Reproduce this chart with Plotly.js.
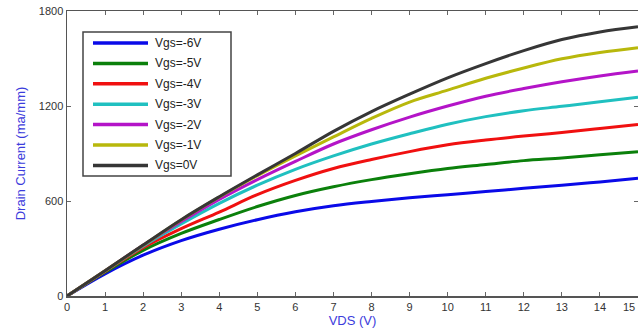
<!DOCTYPE html>
<html>
<head>
<meta charset="utf-8">
<script src="https://cdn.plot.ly/plotly-3.0.1.min.js"></script>
<style>html,body{margin:0;padding:0;background:#fff;}#chart{width:638px;height:328px;}</style>
</head>
<body>
<div id="chart"></div>
<script>
const vds = [0,1,2,3,4,5,6,7,8,9,10,11,12,13,14,15];
const seriesNames = ["Vgs=-6V","Vgs=-5V","Vgs=-4V","Vgs=-3V","Vgs=-2V","Vgs=-1V","Vgs=0V"];
const vgsM6 = [0,140,258,350,422,482,532,570,597,620,640,660,680,700,720,743];
const vgsM5 = [0,150,288,395,483,565,635,690,735,772,805,830,855,872,892,911];
const vgsM4 = [0,155,305,425,530,640,730,805,862,912,955,985,1010,1032,1058,1084];
const vgsM3 = [0,158,315,455,585,700,800,885,960,1025,1085,1133,1170,1198,1227,1255];
const vgsM2 = [0,160,320,470,610,735,850,960,1050,1130,1200,1262,1310,1353,1390,1421];
const vgsM1 = [0,160,320,480,625,760,885,1005,1122,1225,1300,1375,1440,1498,1538,1568];
const vgs0  = [0,160,322,482,627,765,900,1040,1165,1275,1378,1468,1550,1620,1668,1701];
const xTicks = [0,1,2,3,4,5,6,7,8,9,10,11,12,13,14,15];
const yTicks = [0,600,1200,1800];

const allSeries = [vgsM6, vgsM5, vgsM4, vgsM3, vgsM2, vgsM1, vgs0];
const colors = ["#0a0ae8","#0b800b","#f01010","#20c0c0","#b414c8","#b8b80c","#363636"];
const FONT = "Liberation Sans, Arial, sans-serif";

const traces = allSeries.map((ys, i) => ({
  x: vds, y: ys, type: "scatter", mode: "lines", name: seriesNames[i],
  line: {color: colors[i], width: 3, shape: "spline", smoothing: 1},
  showlegend: false, hoverinfo: "skip"
}));

// Manual legend box (paper coordinates)
const L = 67, T = 11, W = 571, H = 285;
const px = v => (v - L) / W;
const py = v => (T + H - v) / H;
const shapes = [{
  type: "rect", xref: "paper", yref: "paper",
  x0: px(83), x1: px(231), y0: py(176), y1: py(32),
  line: {color: "#444", width: 1.5}, fillcolor: "#fff", layer: "above"
}];
const annotations = [];
seriesNames.forEach((nm, i) => {
  const yy = 43 + i * 20.4;
  shapes.push({type: "line", xref: "paper", yref: "paper",
    x0: px(93), x1: px(148), y0: py(yy), y1: py(yy),
    line: {color: colors[i], width: 3.5}, layer: "above"});
  annotations.push({xref: "paper", yref: "paper", x: px(153), y: py(yy),
    xanchor: "left", yanchor: "middle", text: nm, showarrow: false,
    font: {family: FONT, size: 12, color: "#222"}});
});
// last x tick label at the right edge of the figure
annotations.push({xref: "x", yref: "paper", x: xTicks[xTicks.length - 1], y: 0,
  xanchor: "right", yanchor: "top", yshift: -3, xshift: -1, text: String(xTicks[xTicks.length - 1]),
  showarrow: false, font: {family: FONT, size: 11, color: "#333"}});

const axisCommon = {
  showgrid: false, zeroline: false, showline: true, linecolor: "#555", linewidth: 1.5,
  mirror: "ticks", ticks: "inside", ticklen: 4, tickcolor: "#666", tickwidth: 1,
  tickfont: {family: FONT, size: 11, color: "#333"}
};

const layout = {
  width: 638, height: 328,
  margin: {l: 67, r: 0, t: 11, b: 32},
  paper_bgcolor: "#fff", plot_bgcolor: "#fff",
  xaxis: Object.assign({}, axisCommon, {
    range: [0, 15], tickmode: "array", tickvals: xTicks, ticktext: xTicks.map(String),
    title: {text: "VDS (V)", standoff: 2, font: {family: FONT, size: 13, color: "#3c3cdc"}}
  }),
  yaxis: Object.assign({}, axisCommon, {
    range: [0, 1800], tickmode: "array", tickvals: yTicks, ticktext: yTicks.map(String),
    title: {text: "Drain Current (ma/mm)", standoff: 10, font: {family: FONT, size: 13, color: "#3c3cdc"}}
  }),
  shapes: shapes, annotations: annotations, showlegend: false
};

Plotly.newPlot("chart", traces, layout, {staticPlot: true, displayModeBar: false});
</script>
</body>
</html>
